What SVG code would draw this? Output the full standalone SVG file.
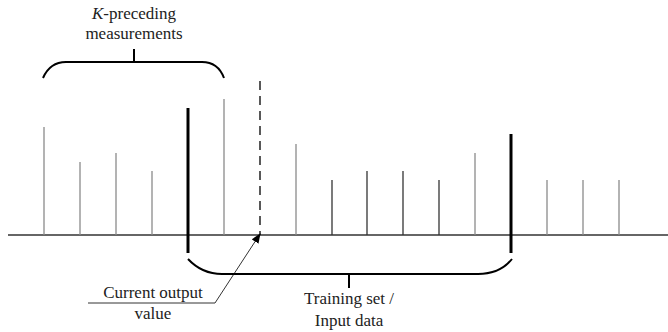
<svg xmlns="http://www.w3.org/2000/svg" width="668" height="332" viewBox="0 0 668 332">
<style>
.g{stroke:#8a8a8a;stroke-width:1.3}
.d{stroke:#333;stroke-width:1.3}
.thick{stroke:#000;stroke-width:3}
.br{fill:none;stroke:#000;stroke-width:2}
.t{font-size:17px;fill:#222;text-anchor:middle}
</style>
<defs>
<marker id="ah" markerWidth="10" markerHeight="8" refX="9" refY="4" orient="auto" markerUnits="userSpaceOnUse">
<path d="M0,0 L10,4 L0,8 z" fill="#000"/>
</marker>
</defs>
<g id="connectors">
<line x1="8" y1="235" x2="668" y2="235" stroke="#333" stroke-width="1.3"/>
<line class="g" x1="44" y1="127" x2="44" y2="235"/>
<line class="g" x1="80" y1="162" x2="80" y2="235"/>
<line class="g" x1="116" y1="153" x2="116" y2="235"/>
<line class="g" x1="152" y1="171" x2="152" y2="235"/>
<line class="g" x1="224" y1="99" x2="224" y2="235"/>
<line x1="260" y1="81" x2="260" y2="235" stroke="#000" stroke-width="1.3" stroke-dasharray="9,6"/>
<line class="g" x1="296" y1="144" x2="296" y2="235"/>
<line class="d" x1="332" y1="180" x2="332" y2="235"/>
<line class="d" x1="367" y1="171" x2="367" y2="235"/>
<line class="d" x1="403" y1="171" x2="403" y2="235"/>
<line class="d" x1="439" y1="180" x2="439" y2="235"/>
<line class="g" x1="475" y1="153" x2="475" y2="235"/>
<line class="g" x1="547" y1="180" x2="547" y2="235"/>
<line class="g" x1="583" y1="180" x2="583" y2="235"/>
<line class="g" x1="619" y1="180" x2="619" y2="235"/>
<line class="thick" x1="188" y1="108" x2="188" y2="253"/>
<line class="thick" x1="511" y1="134" x2="511" y2="253"/>
<line x1="88" y1="303" x2="215" y2="303" stroke="#333" stroke-width="1"/>
<line x1="215" y1="303" x2="260" y2="234" stroke="#333" stroke-width="1" marker-end="url(#ah)"/>
</g>
<g id="top-brace">
<path class="br" d="M43,78 Q50,62 66,62 L202,62 Q218,62 224,78"/>
<line class="br" x1="134" y1="49" x2="134" y2="62"/>
<text class="t" font-family="Liberation Serif, serif" x="134" y="19"><tspan font-style="italic">K</tspan>-preceding</text>
<text class="t" font-family="Liberation Serif, serif" x="134" y="39">measurements</text>
</g>
<g id="bottom-brace">
<path class="br" d="M188,259 Q202,274 222,274 L478,274 Q500,274 512,259"/>
<line class="br" x1="349" y1="274" x2="349" y2="288"/>
<text class="t" font-family="Liberation Serif, serif" x="349" y="304">Training set /</text>
<text class="t" font-family="Liberation Serif, serif" x="349" y="326">Input data</text>
</g>
<g id="current-output">
<text class="t" font-family="Liberation Serif, serif" x="153" y="298">Current output</text>
<text class="t" font-family="Liberation Serif, serif" x="153" y="319">value</text>
</g>
</svg>
